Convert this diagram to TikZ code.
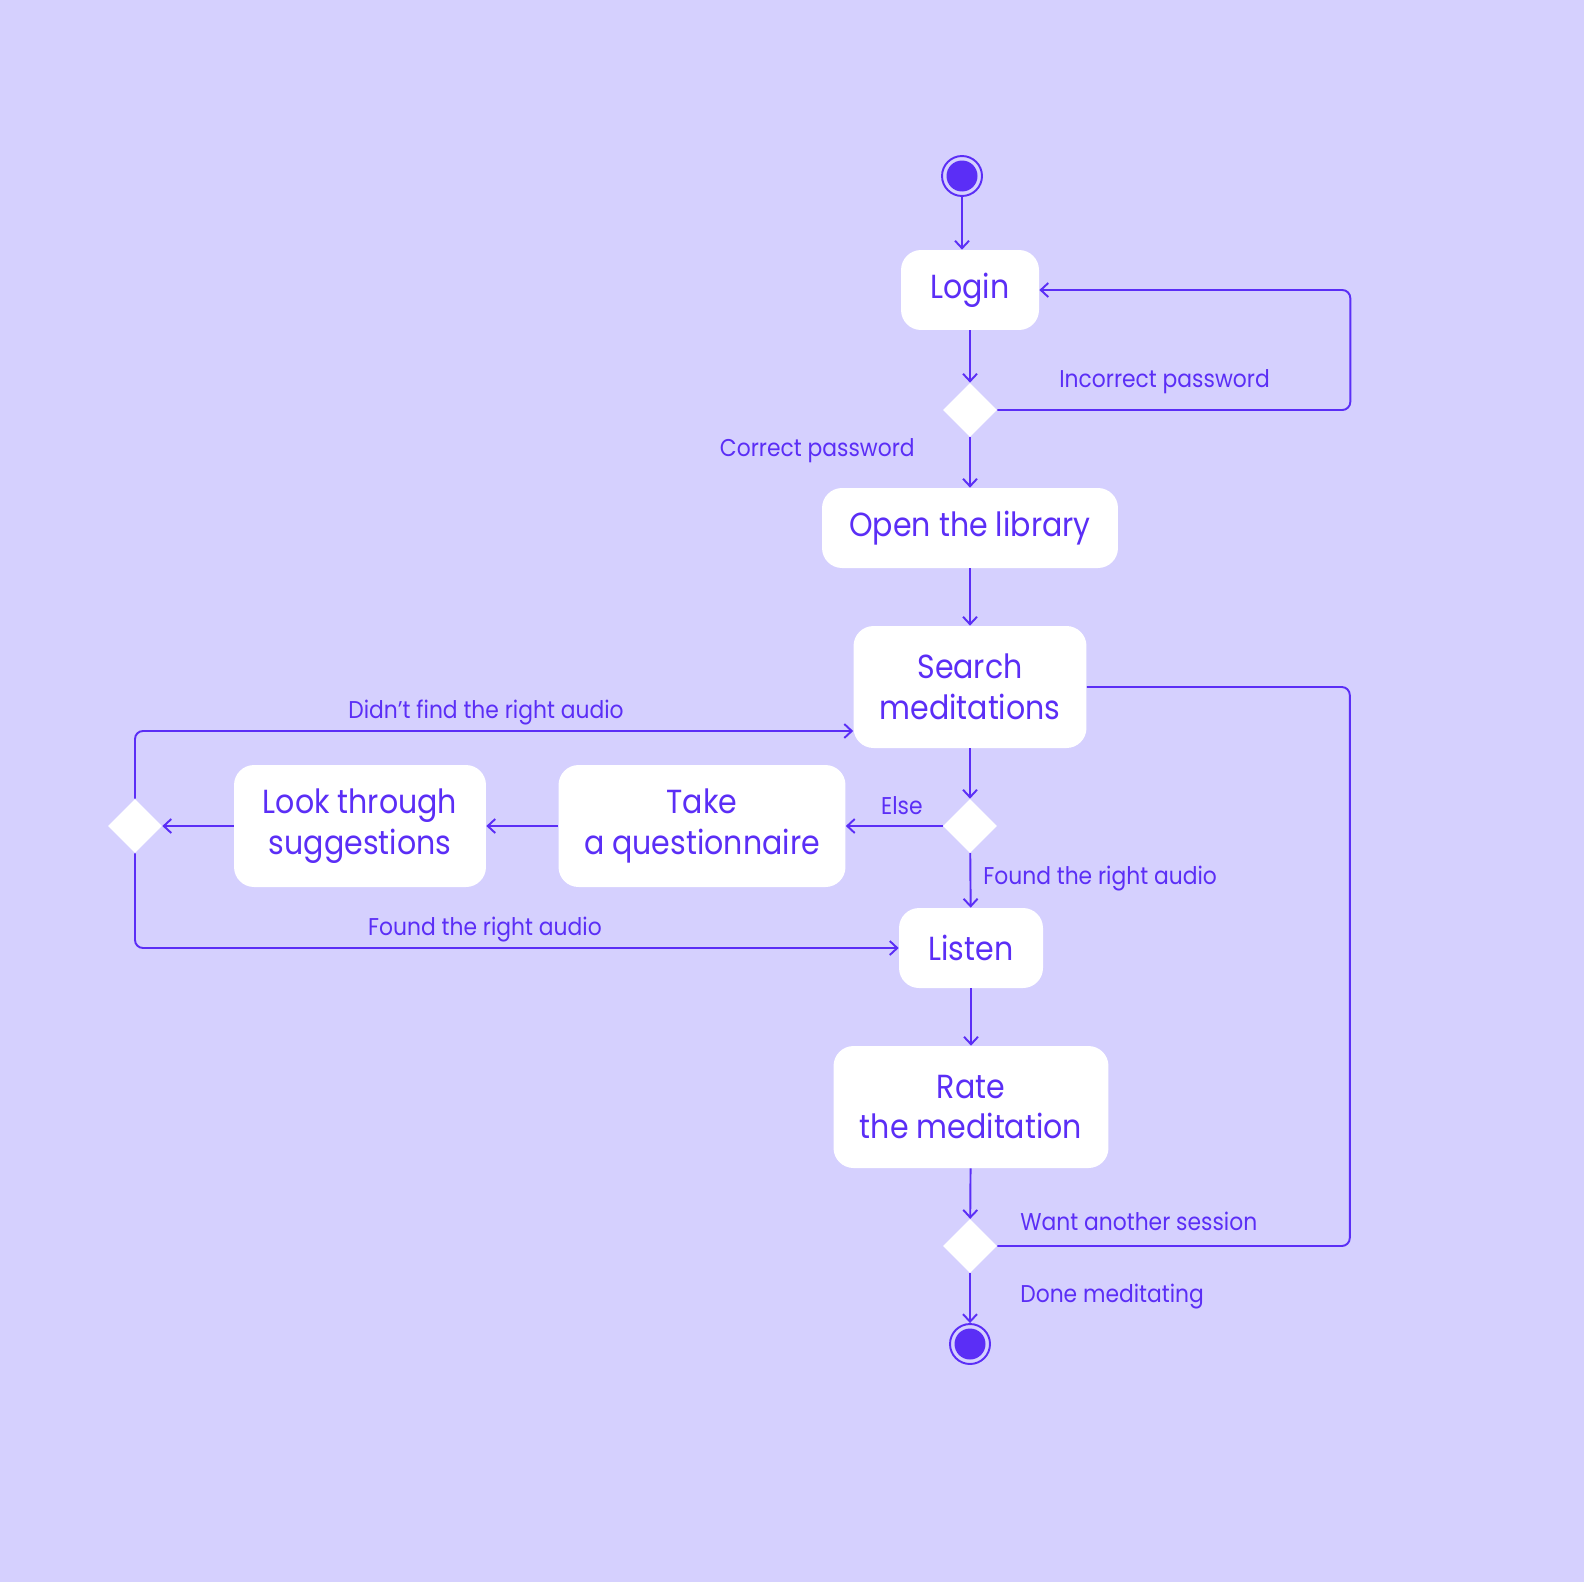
\documentclass[tikz,border=0pt]{standalone}
\usepackage{fontspec}
\setmainfont{Poppins}[FakeStretch=0.9]
\usetikzlibrary{arrows.meta, shapes.geometric}
\definecolor{bglilac}{HTML}{D5D0FE}
\definecolor{ink}{HTML}{5B2EF6}

\tikzset{
    act/.style={fill=white, rounded corners=0.4cm, text=ink, align=center,
        inner sep=0pt, font=\fontsize{19}{23.3}\selectfont},
    choice/.style={diamond, fill=white, aspect=1, inner sep=0pt,
        minimum width=1.08cm, minimum height=1.08cm},
    terminal/.style={circle, draw=ink, fill=bglilac, line width=1.1pt,
        minimum size=0.8cm, inner sep=0pt,
        path picture={\fill[ink] (path picture bounding box.center) circle (0.31cm);}},
    lbl/.style={text=ink, inner sep=0pt, font=\fontsize{13.8}{16}\selectfont},
    flow/.style={draw=ink, line width=1.1pt},
}

\begin{document}
\begin{tikzpicture}[x=0.02cm, y=-0.02cm, >={Straight Barb[length=1.5mm, width=2.8mm]}]
            \fill[bglilac] (0,0) rectangle (1584,1582);
            \node[terminal] (start) at (962,176) {};
            \node[act, minimum width=2.76cm, minimum height=1.6cm] (login) at (970,290) {Login};
            \node[choice] (dlog) at (970,410) {};
            \node[act, minimum width=5.92cm, minimum height=1.6cm] (open) at (970,528) {Open the library};
            \node[act, minimum width=4.66cm, minimum height=2.44cm] (srch) at (970,687) {Search\\meditations};
            \node[choice] (dsrch) at (970,826) {};
            \node[act, minimum width=5.74cm, minimum height=2.44cm] (quest) at (702,826) {Take\\a questionnaire};
            \node[act, minimum width=5.04cm, minimum height=2.44cm] (sugg) at (360,826) {Look through\\suggestions};
            \node[choice] (dsugg) at (135,826) {};
            \node[act, minimum width=2.88cm, minimum height=1.6cm] (listen) at (971,948) {Listen};
            \node[act, minimum width=5.5cm, minimum height=2.44cm] (rate) at (971,1107) {Rate\\the meditation};
            \node[choice] (drate) at (970,1246) {};
            \node[terminal] (stop) at (970,1344) {};

            % branch labels
            \node[lbl, anchor=west] (incorrect) at (1059,382) {Incorrect password};
            \node[lbl, anchor=east] (correct) at (915,451) {Correct password};
            \node[lbl, anchor=east] (else) at (923,806) {Else};
            \node[lbl, anchor=west] (foundR) at (983,879) {Found the right audio};
            \node[lbl] (notfound) at (486,712) {Didn’t find the right audio};
            \node[lbl] (foundL) at (485,930) {Found the right audio};
            \node[lbl, anchor=west] (again) at (1020,1221) {Want another session};
            \node[lbl, anchor=west] (done) at (1020,1297) {Done meditating};

            \path[flow, ->]
                (start) edge (start |- login.north)
                (login) edge (dlog)
                (dlog) edge (open)
                (open) edge (srch)
                (srch) edge (dsrch)
                (dsrch) edge (quest)
                (quest) edge (sugg)
                (sugg) edge (dsugg)
                (dsrch) edge (listen)
                (listen) edge (rate)
                (rate) edge (drate)
                (drate) edge (stop)
            ;
            \draw[flow, ->, rounded corners=0.16cm] (dlog.east) -| ([xshift=6.22cm]login.east) -- (login.east);
            \draw[flow, ->, rounded corners=0.16cm] (dsugg.north) |- ([yshift=-0.88cm]srch.west);
            \draw[flow, ->, rounded corners=0.16cm] (dsugg.south) |- (listen.west);
            \draw[flow, rounded corners=0.16cm] (drate.east) -| ([xshift=5.26cm]srch.east) -- (srch.east);

            \pgfresetboundingbox
            \useasboundingbox (0,0) rectangle (1584,1582);
\end{tikzpicture}
\end{document}
